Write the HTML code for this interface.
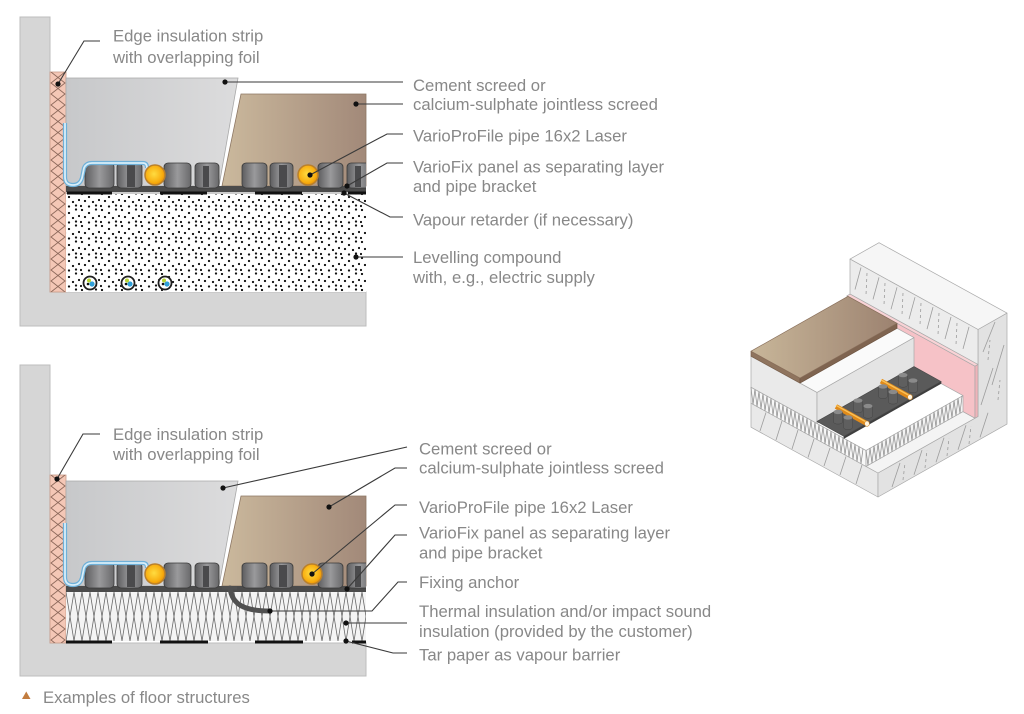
<!DOCTYPE html>
<html><head><meta charset="utf-8"><style>
html,body{margin:0;padding:0;background:#fff;width:1024px;height:714px;overflow:hidden;}
svg{display:block;}
text{font-family:"Liberation Sans",Arial,sans-serif;font-size:16.7px;fill:#888888;}
</style></head><body>
<svg width="1024" height="714" viewBox="0 0 1024 714" xmlns="http://www.w3.org/2000/svg">
<defs>
<linearGradient id="gGray" x1="0" y1="0" x2="1" y2="0"><stop offset="0" stop-color="#c7c8ca"/><stop offset="1" stop-color="#dcdcdd"/></linearGradient>
<linearGradient id="gBrown" x1="0" y1="0" x2="1" y2="0"><stop offset="0" stop-color="#cbb99d"/><stop offset="1" stop-color="#a28979"/></linearGradient>
<linearGradient id="gKnob" x1="0" y1="0" x2="1" y2="0"><stop offset="0" stop-color="#5d5d5f"/><stop offset="0.5" stop-color="#9a9a9c"/><stop offset="1" stop-color="#69696b"/></linearGradient>
<radialGradient id="gPipe" cx="0.45" cy="0.45" r="0.6"><stop offset="0" stop-color="#ffdc40"/><stop offset="0.7" stop-color="#f8ae10"/><stop offset="1" stop-color="#e58a00"/></radialGradient>
<linearGradient id="gBrownIso" gradientUnits="userSpaceOnUse" x1="751" y1="0" x2="897" y2="0"><stop offset="0" stop-color="#c8b699"/><stop offset="1" stop-color="#9c8270"/></linearGradient>
<pattern id="dots" patternUnits="userSpaceOnUse" width="20" height="16">
<g fill="#111"><circle cx="2" cy="2" r="1.15"/><circle cx="9" cy="5" r="1.15"/><circle cx="16" cy="1.5" r="1.15"/><circle cx="5" cy="9" r="1.15"/><circle cx="13" cy="10" r="1.15"/><circle cx="19" cy="8" r="1.1"/><circle cx="1" cy="14" r="1.1"/><circle cx="9" cy="14.5" r="1.15"/><circle cx="16" cy="13.5" r="1.15"/></g>
</pattern>
<clipPath id="cStripT"><rect x="50" y="72" width="16" height="220"/></clipPath>
<clipPath id="cStripB"><rect x="50" y="475" width="16" height="168"/></clipPath>
<clipPath id="cIns"><rect x="66" y="592" width="300" height="49"/></clipPath>
<clipPath id="cPanel"><rect x="66" y="150" width="300" height="50"/></clipPath>
<g id="panel">
<rect x="66" y="186" width="300" height="6" fill="#4b4b4b"/>
<g clip-path="url(#cPanel)">
<g fill="url(#gKnob)" stroke="#3a3a3a" stroke-width="0.8">
<rect x="85" y="163" width="29" height="25" rx="4"/>
<rect x="117" y="163" width="25" height="25" rx="4"/>
<rect x="164" y="163" width="27" height="25" rx="4"/>
<rect x="195" y="163" width="24" height="25" rx="4"/>
<rect x="242" y="163" width="25" height="25" rx="4"/>
<rect x="270" y="163" width="23" height="25" rx="4"/>
<rect x="318" y="163" width="25" height="25" rx="4"/>
<rect x="347" y="163" width="24" height="25" rx="4"/>
</g>
<g fill="#4a4a4c"><rect x="127" y="165" width="8" height="22"/><rect x="279" y="165" width="8" height="22"/><rect x="203" y="166" width="6" height="21"/><rect x="355" y="166" width="6" height="21"/></g>
</g>
<path d="M65,123 V177 Q65,185 73,185 Q80,185 82,178 L84,168 Q86,163 92,163 H143 Q147,163 147,168" fill="none" stroke="#6fb0d8" stroke-width="4.2"/>
<path d="M65,123 V177 Q65,185 73,185 Q80,185 82,178 L84,168 Q86,163 92,163 H143 Q147,163 147,168" fill="none" stroke="#d8eef9" stroke-width="1.8"/>
</g>
</defs>

<!-- ============ TOP SECTION ============ -->
<path d="M20,17H50V292H366V326H20Z" fill="#d6d6d6" stroke="#bdbdbd" stroke-width="1"/>
<rect x="50" y="72" width="16" height="220" fill="#f4c7b6" stroke="#c79a88" stroke-width="0.8"/>
<g clip-path="url(#cStripT)" fill="none" stroke="#8e6a5c" stroke-width="0.9">
<path d="M51,72l14,11l-14,11l14,11l-14,11l14,11l-14,11l14,11l-14,11l14,11l-14,11l14,11l-14,11l14,11l-14,11l14,11l-14,11l14,11l-14,11l14,11l-14,11"/>
<path d="M65,72l-14,11l14,11l-14,11l14,11l-14,11l14,11l-14,11l14,11l-14,11l14,11l-14,11l14,11l-14,11l14,11l-14,11l14,11l-14,11l14,11l-14,11l14,11"/>
</g>
<polygon points="66,78 238,78 219,186 66,186" fill="url(#gGray)" stroke="#a9a9a9" stroke-width="0.8"/>
<polygon points="241,94 366,94 366,186 222,186" fill="url(#gBrown)" stroke="#8d7764" stroke-width="0.8"/>
<rect x="66" y="194" width="300" height="98" fill="#fff"/>
<rect x="66" y="194" width="300" height="98" fill="url(#dots)"/>
<use href="#panel"/>
<line x1="66" y1="193" x2="366" y2="193" stroke="#9a9a9a" stroke-width="1"/>
<g fill="#111"><rect x="67" y="191.5" width="45" height="3"/><rect x="160" y="191.5" width="47" height="3"/><rect x="255" y="191.5" width="47" height="3"/><rect x="348" y="191.5" width="18" height="3"/></g>
<g stroke="#b9802c" stroke-width="1.5" fill="url(#gPipe)"><circle cx="155" cy="175" r="10"/><circle cx="308" cy="175" r="10"/></g>
<g>
<circle cx="90" cy="283" r="6.5" fill="#fff" stroke="#1e1e1e" stroke-width="1.8"/><circle cx="92" cy="284" r="2.6" fill="#2f9fd8"/><circle cx="89" cy="280.5" r="2" fill="#b6d334"/><circle cx="88" cy="284" r="1.3" fill="#111"/>
<circle cx="128" cy="283" r="6.5" fill="#fff" stroke="#1e1e1e" stroke-width="1.8"/><circle cx="130" cy="284" r="2.6" fill="#2f9fd8"/><circle cx="127" cy="280.5" r="2" fill="#b6d334"/><circle cx="126" cy="284" r="1.3" fill="#111"/>
<circle cx="165" cy="283" r="6.5" fill="#fff" stroke="#1e1e1e" stroke-width="1.8"/><circle cx="167" cy="284" r="2.6" fill="#2f9fd8"/><circle cx="164" cy="280.5" r="2" fill="#b6d334"/><circle cx="163" cy="284" r="1.3" fill="#111"/>
</g>

<g fill="none" stroke="#3a3a3a" stroke-width="1.1">
<polyline points="58,84 84,41 100,41"/>
<polyline points="225,82 403,82"/>
<polyline points="356,104 403,104"/>
<polyline points="310,175 387,134 403,134"/>
<polyline points="347,186 387,163 403,163"/>
<polyline points="344,193 390,217 403,217"/>
<polyline points="356,257 403,257"/>
</g>
<g fill="#111">
<circle cx="58" cy="84" r="2.6"/><circle cx="225" cy="82" r="2.6"/><circle cx="356" cy="104" r="2.6"/><circle cx="310" cy="175" r="2.6"/><circle cx="347" cy="186" r="2.6"/><circle cx="344" cy="193" r="2.6"/><circle cx="356" cy="257" r="2.6"/>
</g>
<text x="113" y="41.5">Edge insulation strip</text>
<text x="113" y="63">with overlapping foil</text>
<text x="413" y="91">Cement screed or</text>
<text x="413" y="110">calcium-sulphate jointless screed</text>
<text x="413" y="141.5">VarioProFile pipe 16x2 Laser</text>
<text x="413" y="172.5">VarioFix panel as separating layer</text>
<text x="413" y="192">and pipe bracket</text>
<text x="413" y="225.5">Vapour retarder (if necessary)</text>
<text x="413" y="263">Levelling compound</text>
<text x="413" y="283">with, e.g., electric supply</text>

<!-- ============ BOTTOM SECTION ============ -->
<path d="M20,365H50V643H366V676H20Z" fill="#d6d6d6" stroke="#bdbdbd" stroke-width="1"/>
<rect x="50" y="475" width="16" height="168" fill="#f4c7b6" stroke="#c79a88" stroke-width="0.8"/>
<g clip-path="url(#cStripB)" fill="none" stroke="#8e6a5c" stroke-width="0.9">
<path d="M51,475l14,11l-14,11l14,11l-14,11l14,11l-14,11l14,11l-14,11l14,11l-14,11l14,11l-14,11l14,11l-14,11l14,11l-14,11"/>
<path d="M65,475l-14,11l14,11l-14,11l14,11l-14,11l14,11l-14,11l14,11l-14,11l14,11l-14,11l14,11l-14,11l14,11l-14,11l14,11"/>
</g>
<polygon points="66,481 238,481 219,586 66,586" fill="url(#gGray)" stroke="#a9a9a9" stroke-width="0.8"/>
<polygon points="241,496 366,496 366,586 222,586" fill="url(#gBrown)" stroke="#8d7764" stroke-width="0.8"/>
<rect x="66" y="592" width="300" height="49" fill="#f4f4f4"/>
<g clip-path="url(#cIns)" fill="none" stroke="#6a6a6a" stroke-width="0.8">
<path d="M66,592l8,49l8,-49l8,49l8,-49l8,49l8,-49l8,49l8,-49l8,49l8,-49l8,49l8,-49l8,49l8,-49l8,49l8,-49l8,49l8,-49l8,49l8,-49l8,49l8,-49l8,49l8,-49l8,49l8,-49l8,49l8,-49l8,49l8,-49l8,49l8,-49l8,49l8,-49l8,49l8,-49l8,49l8,-49"/>
<path d="M66,641l8,-49l8,49l8,-49l8,49l8,-49l8,49l8,-49l8,49l8,-49l8,49l8,-49l8,49l8,-49l8,49l8,-49l8,49l8,-49l8,49l8,-49l8,49l8,-49l8,49l8,-49l8,49l8,-49l8,49l8,-49l8,49l8,-49l8,49l8,-49l8,49l8,-49l8,49l8,-49l8,49l8,-49l8,49"/>
</g>
<use href="#panel" transform="translate(0,400)"/>
<g fill="#111"><rect x="66" y="640.5" width="46" height="3"/><rect x="160" y="640.5" width="48" height="3"/><rect x="255" y="640.5" width="48" height="3"/><rect x="352" y="640.5" width="14" height="3"/></g>
<g stroke="#b9802c" stroke-width="1.5" fill="url(#gPipe)"><circle cx="155" cy="574" r="10"/><circle cx="312" cy="574" r="10"/></g>
<path d="M230,588 C232,605 245,611 270,611" fill="none" stroke="#505050" stroke-width="5" stroke-linecap="round"/>
<line x1="222" y1="588" x2="237" y2="588" stroke="#505050" stroke-width="3"/>

<g fill="none" stroke="#3a3a3a" stroke-width="1.1">
<polyline points="57,479 83,434 100,434"/>
<polyline points="223,488 407,447"/>
<polyline points="329,507 395,468 407,468"/>
<polyline points="312,574 395,505 407,505"/>
<polyline points="347,589 395,535 407,535"/>
<polyline points="270,611 372,611 398,582 407,582"/>
<polyline points="346,623 407,623"/>
<polyline points="346,641 393,653 407,653"/>
</g>
<g fill="#111">
<circle cx="57" cy="479" r="2.6"/><circle cx="223" cy="488" r="2.6"/><circle cx="329" cy="507" r="2.6"/><circle cx="312" cy="574" r="2.6"/><circle cx="347" cy="589" r="2.6"/><circle cx="270" cy="611" r="2.6"/><circle cx="346" cy="623" r="2.6"/><circle cx="346" cy="641" r="2.6"/>
</g>
<text x="113" y="440">Edge insulation strip</text>
<text x="113" y="460">with overlapping foil</text>
<text x="419" y="454.5">Cement screed or</text>
<text x="419" y="473.5">calcium-sulphate jointless screed</text>
<text x="419" y="513">VarioProFile pipe 16x2 Laser</text>
<text x="419" y="538.5">VarioFix panel as separating layer</text>
<text x="419" y="558.5">and pipe bracket</text>
<text x="419" y="588">Fixing anchor</text>
<text x="419" y="617">Thermal insulation and/or impact sound</text>
<text x="419" y="637">insulation (provided by the customer)</text>
<text x="419" y="660.5">Tar paper as vapour barrier</text>

<polygon points="22,699 30.5,699 26.25,691.5" fill="#c27c3f"/>
<text x="43" y="703">Examples of floor structures</text>

<!-- ============ ISOMETRIC ============ -->
<g stroke="#a9a9a9" stroke-width="0.7" stroke-linejoin="round">
<polygon points="878,497 751,427.2 751,403.2 878,473" fill="#e9e9e9"/>
<polygon points="878,497 1007,424.1 1007,313.1 978,329.5 978,416.5 878,473" fill="#e2e2e2"/>
<polygon points="878,473 975,418.2 963,411.6 866,466.4" fill="#f4f4f4"/>
<polygon points="978,329.5 1007,313.1 879,242.7 850,259.1" fill="#f6f6f6"/>
<polygon points="850,259.1 978,329.5 978,364.5 850,294.1" fill="#ececec"/>
<polygon points="975,418.2 975,366.2 847,295.8 847,347.8" fill="#f6c2c7"/>
<polygon points="975,366.2 978,364.5 850,294.1 847,295.8" fill="#f9d3d6"/>
<polygon points="975,418.2 978,416.5 978,364.5 975,366.2" fill="#efb3b9"/>
<polygon points="866,466.4 751,403.2 751,387.2 866,450.4" fill="#f7f7f7"/>
<polygon points="866,466.4 963,411.6 963,395.6 866,450.4" fill="#f4f4f4"/>
<polygon points="866,450.4 963,395.6 848,332.3 751,387.2" fill="#ffffff"/>
</g>
<g fill="none" stroke="#8a8a8a" stroke-width="0.7">
<g transform="translate(866,450.4) skewY(-29.5)"><path d="M0,0l2,16l2,-16l2,16l2,-16l2,16l2,-16l2,16l2,-16l2,16l2,-16l2,16l2,-16l2,16l2,-16l2,16l2,-16l2,16l2,-16l2,16l2,-16l2,16l2,-16l2,16l2,-16l2,16l2,-16l2,16l2,-16l2,16l2,-16l2,16l2,-16l2,16l2,-16l2,16l2,-16l2,16l2,-16l2,16l2,-16l2,16l2,-16l2,16l2,-16l2,16l2,-16l2,16l2,-16"/></g>
<g transform="translate(751,387.2) skewY(28.8)"><path d="M0,0l2,16l2,-16l2,16l2,-16l2,16l2,-16l2,16l2,-16l2,16l2,-16l2,16l2,-16l2,16l2,-16l2,16l2,-16l2,16l2,-16l2,16l2,-16l2,16l2,-16l2,16l2,-16l2,16l2,-16l2,16l2,-16l2,16l2,-16l2,16l2,-16l2,16l2,-16l2,16l2,-16l2,16l2,-16l2,16l2,-16l2,16l2,-16l2,16l2,-16l2,16l2,-16l2,16l2,-16l2,16l2,-16l2,16l2,-16l2,16l2,-16l2,16l2,-16"/></g>
</g>
<!-- hatch lines -->
<g stroke="#9c9c9c" stroke-width="0.8" fill="none">
<line x1="861" y1="267.5" x2="855" y2="289.5"/><line x1="879" y1="277.4" x2="873" y2="299.4"/><line x1="897" y1="287.3" x2="891" y2="309.3"/><line x1="915" y1="297.2" x2="909" y2="319.2"/><line x1="933" y1="307.1" x2="927" y2="329.1"/><line x1="951" y1="317" x2="945" y2="339"/><line x1="969" y1="326.9" x2="963" y2="348.9"/>
<g stroke-dasharray="3,3"><line x1="867" y1="273" x2="866" y2="295"/><line x1="885" y1="283" x2="884" y2="305"/><line x1="903" y1="293" x2="902" y2="315"/><line x1="921" y1="303" x2="920" y2="325"/><line x1="939" y1="313" x2="938" y2="335"/><line x1="957" y1="323" x2="956" y2="345"/></g>
<line x1="892" y1="487" x2="900" y2="463"/><line x1="914" y1="474.7" x2="922" y2="450.1"/><line x1="936" y1="462.2" x2="944" y2="437.7"/><line x1="958" y1="449.8" x2="966" y2="425.3"/><line x1="980" y1="437.4" x2="988" y2="412.8"/>
<line x1="981" y1="405" x2="993" y2="368"/><line x1="992" y1="385" x2="1004" y2="345"/><line x1="983" y1="352" x2="995" y2="322"/>
<g stroke-dasharray="3,3"><line x1="903" y1="480" x2="905" y2="463"/><line x1="925" y1="468" x2="927" y2="450"/><line x1="947" y1="456" x2="949" y2="438"/><line x1="969" y1="444" x2="971" y2="426"/><line x1="998" y1="400" x2="1000" y2="380"/><line x1="988" y1="360" x2="990" y2="340"/></g>
<line x1="760" y1="431" x2="766" y2="412.5"/><line x1="776" y1="440" x2="782" y2="421"/><line x1="792" y1="449" x2="798" y2="430"/><line x1="808" y1="457.5" x2="814" y2="439"/><line x1="824" y1="466" x2="830" y2="448"/><line x1="840" y1="475" x2="846" y2="456.5"/><line x1="856" y1="484" x2="862" y2="465"/>
</g>
<g stroke="#a9a9a9" stroke-width="0.7" stroke-linejoin="round">
<polygon points="817,423.4 751,387.2 751,356.2 817,392.4" fill="#eaeaea"/>
<polygon points="817,423.4 914,368.6 914,337.6 817,392.4" fill="#e4e4e4"/>
<polygon points="817,392.4 914,337.6 848,301.3 751,356.2" fill="#fafafa"/>
<polygon points="800,378.1 751,351.2 751,356.2 800,383.1" fill="#8f745e" stroke="#7a604c"/>
<polygon points="800,378.1 897,323.3 897,328.3 800,383.1" fill="#7f6450" stroke="#6e5542"/>
<polygon points="800,378.1 897,323.3 848,296.3 751,351.2" fill="url(#gBrownIso)" stroke="#8a705c"/>
<polygon points="844,438.3 941,383.5 941,381.5 844,436.3" fill="#3e3e3e" stroke="#3e3e3e"/>
<polygon points="844,436.3 941,381.5 914,366.6 817,421.4" fill="#5a5a5a" stroke="#4a4a4a"/>
</g>
<!-- knobs & pipes -->
<g>
<g fill="#5f5f5f" stroke="#444" stroke-width="0.5">
<path d="M853.5,400.6v10a4.5,2.2 0 0 0 9,0v-10z"/><path d="M863.5,406.1v10a4.5,2.2 0 0 0 9,0v-10z"/>
<path d="M898.5,375.1v10a4.5,2.2 0 0 0 9,0v-10z"/><path d="M908.5,380.6v10a4.5,2.2 0 0 0 9,0v-10z"/>
</g>
<g fill="#8a8a8a"><ellipse cx="858" cy="400.6" rx="4.5" ry="2.2"/><ellipse cx="868" cy="406.1" rx="4.5" ry="2.2"/><ellipse cx="903" cy="375.1" rx="4.5" ry="2.2"/><ellipse cx="913" cy="380.6" rx="4.5" ry="2.2"/></g>
<line x1="836" y1="406.5" x2="867" y2="423.7" stroke="#e08a1a" stroke-width="5"/>
<line x1="836" y1="405.3" x2="866" y2="421.9" stroke="#f9c158" stroke-width="1.4"/>
<line x1="881" y1="381.1" x2="910" y2="397.1" stroke="#e08a1a" stroke-width="5"/>
<line x1="881" y1="379.9" x2="909" y2="395.4" stroke="#f9c158" stroke-width="1.4"/>
<g fill="#fff5e0" stroke="#d08a30" stroke-width="0.6"><ellipse cx="867" cy="423.7" rx="2.4" ry="2.7"/><ellipse cx="910" cy="397.1" rx="2.4" ry="2.7"/></g>
<g fill="#5f5f5f" stroke="#444" stroke-width="0.5">
<path d="M833.5,411.9v10a4.5,2.2 0 0 0 9,0v-10z"/><path d="M843.5,417.4v10a4.5,2.2 0 0 0 9,0v-10z"/>
<path d="M878.5,386.4v10a4.5,2.2 0 0 0 9,0v-10z"/><path d="M888.5,391.9v10a4.5,2.2 0 0 0 9,0v-10z"/>
</g>
<g fill="#8a8a8a"><ellipse cx="838" cy="411.9" rx="4.5" ry="2.2"/><ellipse cx="848" cy="417.4" rx="4.5" ry="2.2"/><ellipse cx="883" cy="386.4" rx="4.5" ry="2.2"/><ellipse cx="893" cy="391.9" rx="4.5" ry="2.2"/></g>
</g>
</svg>
</body></html>
